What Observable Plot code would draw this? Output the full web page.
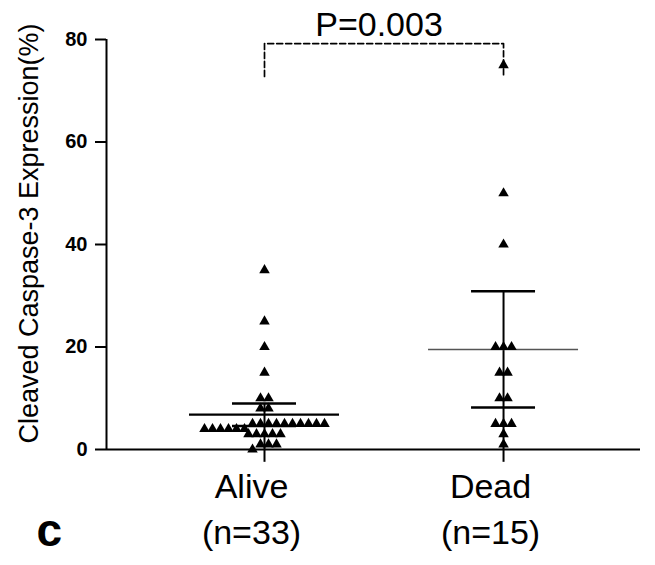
<!DOCTYPE html>
<html><head><meta charset="utf-8">
<script src="https://cdn.jsdelivr.net/npm/d3@7"></script>
<script src="https://cdn.jsdelivr.net/npm/@observablehq/plot@0.6"></script>
<style>body{margin:0;background:#fff}</style>
</head><body><div id="chart"></div>
<script>
// ---- data ----
const groups = ["Alive", "Dead"];
const groupN = [33, 15];
const aliveValues = [35, 25, 20, 15, 10, 10, 8, 8, 5, 5, 5, 5, 5, 5, 5, 5, 5, 5, 4, 4, 4, 4, 4, 4, 3, 3, 3, 3, 3, 1, 1, 1, 0];
const deadValues = [75, 50, 40, 20, 20, 20, 15, 15, 10, 10, 5, 5, 5, 3, 1];
const groupMeans = [6.8, 19.5];
const ciLower = [4.6, 8.2];
const ciUpper = [9.0, 30.9];
const yTicks = [0, 20, 40, 60, 80];
const yLabel = "Cleaved Caspase-3 Expression(%)";
const pLabel = "P=0.003";
const bracketTop = 79.2;
const bracketEnd = 72.8;
const panelLetter = "c";

// ---- layout ----
const W = 655, H = 565, mL = 106, mR = 15, mT = 39, mB = 116;
const xDomain = [0.339, 2.573];
const pxPerUnit = (W - mL - mR) / (xDomain[1] - xDomain[0]);
const slot = 8 / pxPerUnit;
const meanHalf = 75 / pxPerUnit;
const capHalf = 32 / pxPerUnit;
const tickDepth = -2.5;

function swarm(values, gi) {
  const sorted = values.slice().sort((a, b) => b - a);
  const rows = []; let cur = null;
  for (const v of sorted) {
    if (cur && cur.start - v <= 1) cur.items.push(v);
    else { cur = {start: v, items: [v]}; rows.push(cur); }
  }
  const out = [];
  for (const r of rows) {
    const items = r.items.slice().sort((a, b) => a - b);
    const n = items.length;
    items.forEach((v, k) => out.push({group: groups[gi], x: gi + 1 + (k - (n - 1) / 2) * slot, value: v}));
  }
  return out;
}
const points = [...swarm(aliveValues, 0), ...swarm(deadValues, 1)];
const stats = groups.map((g, i) => ({group: g, i: i + 1, n: groupN[i], mean: groupMeans[i], lo: ciLower[i], hi: ciUpper[i]}));

const chart = Plot.plot({
  width: W, height: H,
  marginLeft: mL, marginRight: mR, marginTop: mT, marginBottom: mB,
  style: {fontFamily: "'Liberation Sans', Arial, sans-serif", background: "white", color: "black"},
  x: {domain: xDomain, axis: null},
  y: {domain: [0, 80], axis: null},
  marks: [
    Plot.axisY(yTicks, {tickSize: 11, tickPadding: 8, fontSize: 20, fontWeight: "bold", strokeWidth: 2, label: null}),
    Plot.ruleX([xDomain[0]], {y1: 0, y2: 80, strokeWidth: 2}),
    Plot.ruleY([0], {strokeWidth: 2}),
    Plot.ruleX(stats, {x: "i", y1: "hi", y2: () => tickDepth, strokeWidth: 2}),
    Plot.ruleY(stats, {y: "hi", x1: d => d.i - capHalf, x2: d => d.i + capHalf, strokeWidth: 2.5}),
    Plot.ruleY(stats, {y: "lo", x1: d => d.i - capHalf, x2: d => d.i + capHalf, strokeWidth: 2.5}),
    Plot.ruleY(stats.filter(d => d.group === "Alive"), {y: "mean", x1: d => d.i - meanHalf, x2: d => d.i + meanHalf, strokeWidth: 2.2, stroke: "black"}),
    Plot.ruleY(stats.filter(d => d.group === "Dead"), {y: "mean", x1: d => d.i - meanHalf, x2: d => d.i + meanHalf, strokeWidth: 1.5, stroke: "#555"}),
    Plot.dot(points, {x: "x", y: "value", symbol: "triangle", r: 3.9, fill: "black", stroke: "none"}),
    Plot.line([[1, bracketEnd], [1, bracketTop], [2, bracketTop], [2, bracketEnd]], {strokeDasharray: "6,3", strokeWidth: 1.7}),
    Plot.text([pLabel], {x: () => 1.5, frameAnchor: "top", dy: -4, dx: -5, text: d => d, fontSize: 34, lineAnchor: "bottom"}),
    Plot.text(stats, {x: "i", text: "group", frameAnchor: "bottom", dy: 48, dx: -13, fontSize: 34, lineAnchor: "bottom"}),
    Plot.text(stats, {x: "i", text: d => `(n=${d.n})`, frameAnchor: "bottom", dy: 94, dx: -13, fontSize: 34, lineAnchor: "bottom"}),
    Plot.text([yLabel], {frameAnchor: "left", rotate: -90, dx: -77, dy: -11, text: d => d, fontSize: 27, textAnchor: "middle", lineAnchor: "middle"}),
    Plot.text([panelLetter], {frameAnchor: "bottom-left", dx: 36 - mL, dy: 96, text: d => d, fontSize: 46, fontWeight: "bold", textAnchor: "start", lineAnchor: "bottom"})
  ]
});
document.getElementById("chart").appendChild(chart);
</script>
</body></html>
